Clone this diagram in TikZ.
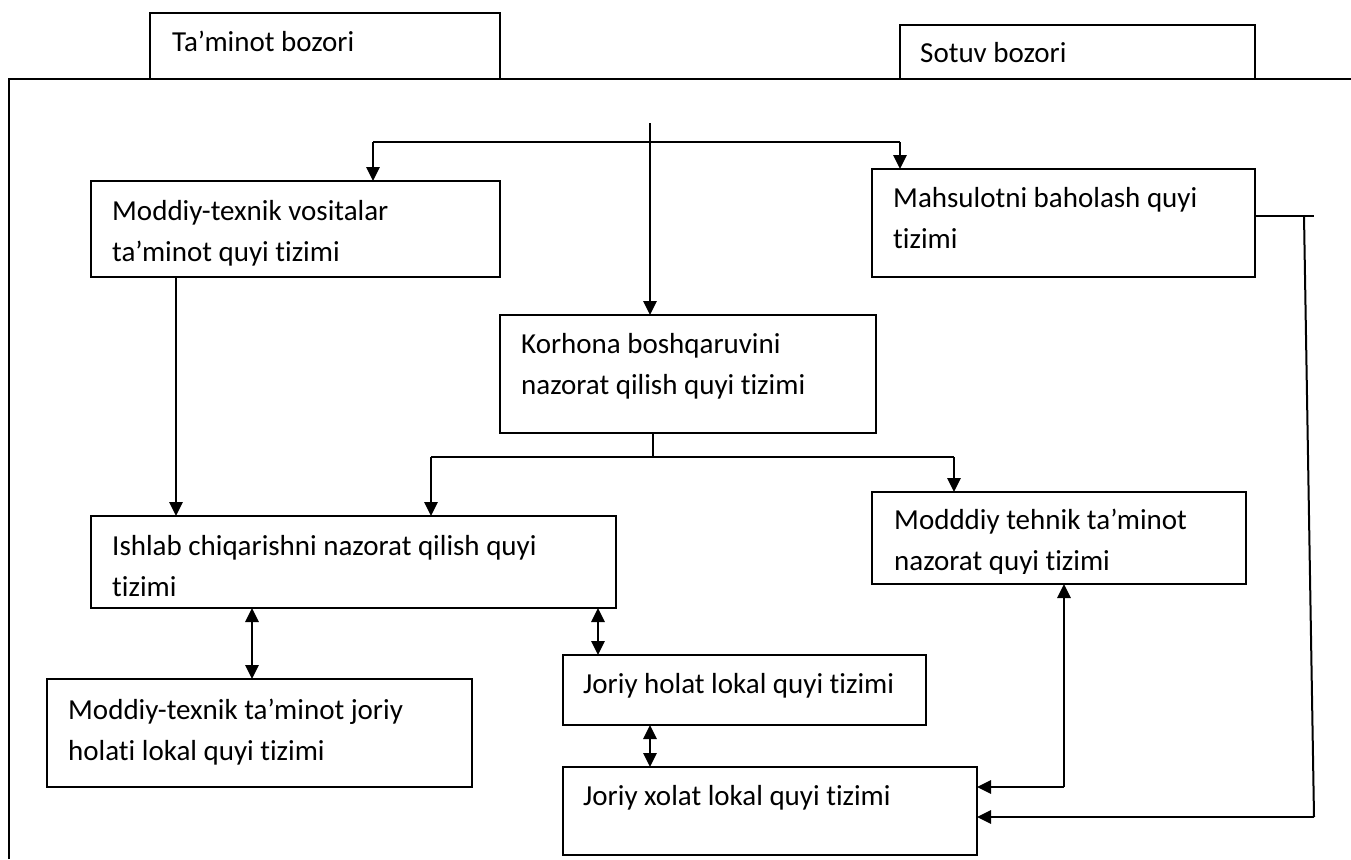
\documentclass[tikz,border=0pt]{standalone}
\usepackage{fontspec}
\setmainfont{Carlito}[Ligatures=NoCommon]
\usetikzlibrary{arrows.meta}
\begin{document}
\begin{tikzpicture}[x=1pt,y=-1pt,
  box/.style={draw=black, line width=1.8pt, rectangle, inner sep=0pt, outer sep=0pt},
  conn/.style={line width=2.8pt, draw=black},
  thinconn/.style={line width=2pt, draw=black},
  arr/.style={conn, -{Triangle[length=14pt,width=13pt]}},
  darr/.style={conn, {Triangle[length=14pt,width=13pt]}-{Triangle[length=14pt,width=13pt]}},
  txt/.style={anchor=base west, inner sep=0pt, align=left, font=\fontsize{29}{41}\selectfont}]
\useasboundingbox (0,0) rectangle (1351,859);
% outer frame
\coordinate (fb) at (9,859);
\coordinate (ftl) at (9,79);
\coordinate (ftr) at (1351,79);
\draw[line width=1.8pt] (fb) -- (ftl) -- (ftr);
% boxes
\node[box, fill=white, minimum width=350pt, minimum height=66pt] (tam) at (325,46) {};
\node[box, fill=white, minimum width=355pt, minimum height=54pt] (sot) at (1077.5,52) {};
\node[box, minimum width=409pt, minimum height=96pt] (mod) at (295.5,229) {};
\node[box, minimum width=383pt, minimum height=108pt] (mah) at (1063.5,223) {};
\node[box, minimum width=376pt, minimum height=118pt] (kor) at (688,374) {};
\node[box, minimum width=525pt, minimum height=92pt] (ish) at (353.5,562) {};
\node[box, minimum width=374pt, minimum height=92pt] (mtn) at (1059,538) {};
\node[box, minimum width=425pt, minimum height=108pt] (mjh) at (259.5,733) {};
\node[box, minimum width=363pt, minimum height=70pt] (jh) at (744.5,690) {};
\node[box, minimum width=414pt, minimum height=88pt] (jx) at (770,811) {};
% texts (anchor = baseline of the last line)
\node[txt] at (172,52) {Ta’minot bozori};
\node[txt] at (920,63) {Sotuv bozori};
\node[txt] at (112,261) {Moddiy-texnik vositalar\\ta’minot quyi tizimi};
\node[txt] at (893,248) {Mahsulotni baholash quyi\\tizimi};
\node[txt] at (521,394) {Korhona boshqaruvini\\nazorat qilish quyi tizimi};
\node[txt] at (112,596) {Ishlab chiqarishni nazorat qilish quyi\\tizimi};
\begin{scope}
\clip (873,493) rectangle (1245,573);
\node[txt] at (894,570) {Modddiy tehnik ta’minot\\nazorat quyi tizimi};
\end{scope}
\node[txt] at (68,760) {Moddiy-texnik ta’minot joriy\\holati lokal quyi tizimi};
\node[txt] at (583,693) {Joriy holat lokal quyi tizimi};
\node[txt] at (583,805) {Joriy xolat lokal quyi tizimi};
% connectors
\coordinate (src) at (650,123);
\coordinate (hl) at (373,142);
\coordinate (hr) at (900,142);
\draw[arr] (src) -- (src |- kor.north);
\draw[conn] (hl) -- (hr);
\draw[arr] (hl) -- (hl |- mod.north);
\draw[arr] (hr) -- (hr |- mah.north);
\coordinate (m1) at (176,277);
\draw[arr] (m1 |- mod.south) -- (m1 |- ish.north);
\coordinate (k1) at (653,457);
\coordinate (kl) at (431,457);
\coordinate (kr) at (954,457);
\draw[conn] (k1 |- kor.south) -- (k1);
\draw[conn] (kl) -- (kr);
\draw[arr] (kl) -- (kl |- ish.north);
\draw[arr] (kr) -- (kr |- mtn.north);
\coordinate (d1) at (252,650);
\coordinate (d2) at (598,630);
\coordinate (d3) at (650,745);
\draw[darr] (d1 |- ish.south) -- (d1 |- mjh.north);
\draw[darr] (d2 |- ish.south) -- (d2 |- jh.north);
\draw[darr] (d3 |- jh.south) -- (d3 |- jx.north);
\coordinate (u1) at (1064,787);
\draw[arr] (u1) -- (u1 |- mtn.south);
\draw[arr] (u1) -- (u1 -| jx.east);
\coordinate (r1) at (1314,216);
\coordinate (r2) at (1304,216);
\coordinate (r3) at (1314,817);
\draw[thinconn] (r1 -| mah.east) -- (r1);
\draw[thinconn] (r2) -- (r3);
\draw[arr] (r3) -- (r3 -| jx.east);
\end{tikzpicture}
\end{document}
